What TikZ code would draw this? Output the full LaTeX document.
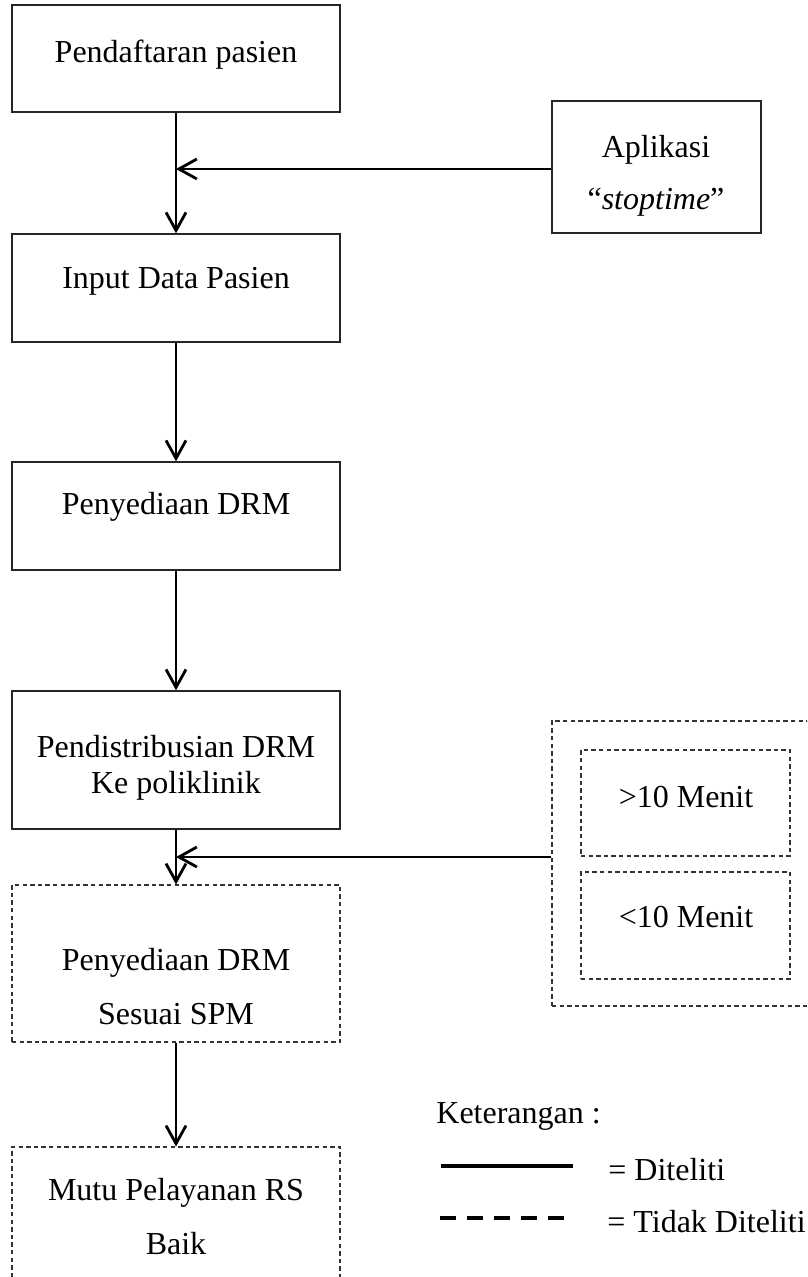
\documentclass[tikz,border=0pt]{standalone}
\usepackage{fontspec}
\setmainfont{Liberation Serif}
\usetikzlibrary{arrows.meta}
\begin{document}
\begin{tikzpicture}[x=0.5pt,y=-0.5pt,
  solidbox/.style={draw=black!85,line width=0.7pt,inner sep=0pt,minimum width=164pt},
  dashbox/.style={draw=black!80,line width=0.55pt,dash pattern=on 2.2pt off 1.6pt,inner sep=0pt},
  txt/.style={font=\fontsize{16}{19}\selectfont,inner sep=0pt,align=center},
  arr/.style={line width=1.4pt,-{Straight Barb[length=9pt,width=10pt]}}]
\useasboundingbox (0,0) rectangle (807,1277);
\clip (0,0) rectangle (807,1277);

% boxes
\node[solidbox,minimum height=53.5pt] (b1) at (176,58.5) {};
\node[solidbox,minimum width=104.5pt,minimum height=66pt] (app) at (656.5,167) {};
\node[solidbox,minimum height=54pt] (b2) at (176,288) {};
\node[solidbox,minimum height=54pt] (b3) at (176,516) {};
\node[solidbox,minimum height=69pt] (b4) at (176,760) {};
\node[dashbox,minimum width=164pt,minimum height=78.5pt] (b5) at (176,963.5) {};
\node[dashbox,minimum width=164pt,minimum height=76.5pt] (b6) at (176,1223.5) {};
\node[dashbox,minimum width=134pt,minimum height=142.5pt] (outer) at (686,863.5) {};
\node[dashbox,minimum width=104.5pt,minimum height=53pt] (in1) at (685.5,803) {};
\node[dashbox,minimum width=104.5pt,minimum height=53.5pt] (in2) at (685.5,925.5) {};

% texts
\node[txt] (t1) at (176,55) {Pendaftaran pasien};
\node[txt,font=\fontsize{16}{26}\selectfont] (tapp) at (656,176) {Aplikasi\\“\textit{stoptime}”};
\node[txt] (t2) at (176,281) {Input Data Pasien};
\node[txt] (t3) at (176,507) {Penyediaan DRM};
\node[txt,font=\fontsize{16}{18}\selectfont] (t4) at (176,768) {Pendistribusian DRM\\Ke poliklinik};
\node[txt,font=\fontsize{16}{27}\selectfont] (t5) at (176,987) {Penyediaan DRM\\Sesuai SPM};
\node[txt,font=\fontsize{16}{27}\selectfont] (t6) at (176,1217) {Mutu Pelayanan RS\\Baik};
\node[txt] (ti1) at (686,797) {>10 Menit};
\node[txt] (ti2) at (686,917) {<10 Menit};

% connectors
\coordinate (j1) at (176,169);
\coordinate (j2) at (176,857);
\draw[arr] (b1) -- (b2);
\draw[arr] (app.west |- j1) -- (j1);
\draw[arr] (b2) -- (b3);
\draw[arr] (b3) -- (b4);
\draw[arr] (b4) -- (b5);
\draw[arr] (outer.west |- j2) -- (j2);
\draw[arr] (b5) -- (b6);

% legend
\node[txt,anchor=west] (ket) at (436,1116) {Keterangan :};
\coordinate (ls1) at (441,1166);
\coordinate (le1) at (573,1166);
\draw[line width=2pt] (ls1) -- (le1);
\node[txt,anchor=west] (dit) at (608,1170) {= Diteliti};
\coordinate (ls2) at (440,1218);
\coordinate (le2) at (566,1218);
\draw[line width=2pt,dash pattern=on 8pt off 5.5pt] (ls2) -- (le2);
\node[txt,anchor=west] (tdk) at (607,1222) {= Tidak Diteliti};
\end{tikzpicture}
\end{document}
